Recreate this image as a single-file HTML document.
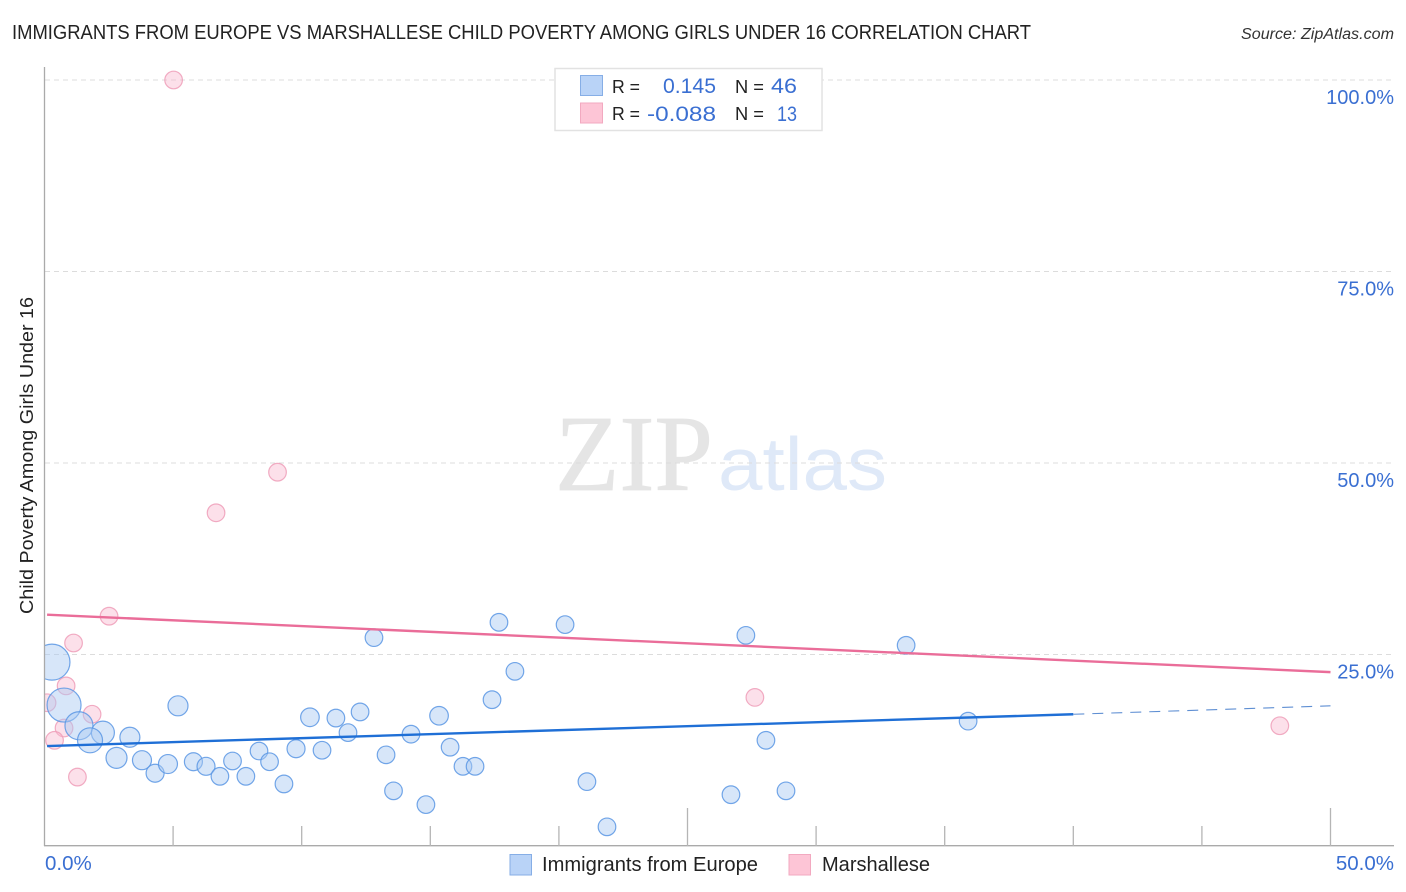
<!DOCTYPE html>
<html lang="en">
<head>
<meta charset="utf-8">
<title>Immigrants from Europe vs Marshallese Child Poverty Chart</title>
<style>
html,body{margin:0;padding:0;background:#fff;}
svg{display:block;font-family:"Liberation Sans",sans-serif;}
</style>
</head>
<body>
<svg id="chart" width="1406" height="892" viewBox="0 0 1406 892" xmlns="http://www.w3.org/2000/svg">
  <text x="12" y="39" font-size="20" fill="#222" textLength="1019" lengthAdjust="spacingAndGlyphs">IMMIGRANTS FROM EUROPE VS MARSHALLESE CHILD POVERTY AMONG GIRLS UNDER 16 CORRELATION CHART</text>
  <text x="1241" y="39" font-size="15.5" font-style="italic" fill="#333" textLength="153" lengthAdjust="spacingAndGlyphs">Source: ZipAtlas.com</text>

  <g>
    <text x="555" y="490" font-family="'Liberation Serif',serif" font-size="108" fill="#e5e5e5" stroke="#e5e5e5" stroke-width="0.8" textLength="158" lengthAdjust="spacingAndGlyphs">ZIP</text>
    <text x="718" y="490" font-size="75" fill="#dfe9f8" textLength="169" lengthAdjust="spacingAndGlyphs">atlas</text>
  </g>

  <g id="grid"></g>
  <g id="points"></g>
  <rect x="0" y="60" width="44.5" height="786" fill="#fff"/>
  <g id="axes"></g>
  <g id="trends"></g>

  <text transform="translate(33,614) rotate(-90)" font-size="18.5" fill="#222" textLength="317" lengthAdjust="spacingAndGlyphs">Child Poverty Among Girls Under 16</text>

  <g>
    <rect x="555" y="68.5" width="267" height="62" fill="#fff" stroke="#e2e2e2" stroke-width="1.5"/>
    <rect x="580.5" y="75.5" width="22" height="20" fill="#b9d3f7" stroke="#86aee6" stroke-width="1"/>
    <rect x="580.5" y="103" width="22" height="20" fill="#fdc5d6" stroke="#f2a9c0" stroke-width="1"/>
    <text x="612" y="93" font-size="18.5" fill="#222" textLength="28" lengthAdjust="spacingAndGlyphs">R =</text>
    <text x="612" y="120" font-size="18.5" fill="#222" textLength="28" lengthAdjust="spacingAndGlyphs">R =</text>
    <text x="663" y="93" font-size="21.5" fill="#3a6fd2" textLength="53" lengthAdjust="spacingAndGlyphs">0.145</text>
    <text x="647" y="121" font-size="21.5" fill="#3a6fd2" textLength="69" lengthAdjust="spacingAndGlyphs">-0.088</text>
    <text x="735" y="93" font-size="18.5" fill="#222" textLength="29" lengthAdjust="spacingAndGlyphs">N =</text>
    <text x="735" y="120" font-size="18.5" fill="#222" textLength="29" lengthAdjust="spacingAndGlyphs">N =</text>
    <text x="771" y="93" font-size="21.5" fill="#3a6fd2" textLength="26" lengthAdjust="spacingAndGlyphs">46</text>
    <text x="777" y="121" font-size="21.5" fill="#3a6fd2" textLength="20" lengthAdjust="spacingAndGlyphs">13</text>
  </g>

  <g>
    <rect x="510" y="854.5" width="21.5" height="20.5" fill="#b9d3f7" stroke="#86aee6" stroke-width="1"/>
    <text x="542" y="871" font-size="20" fill="#222" textLength="216" lengthAdjust="spacingAndGlyphs">Immigrants from Europe</text>
    <rect x="789" y="854.5" width="21.5" height="20.5" fill="#fdc5d6" stroke="#f2a9c0" stroke-width="1"/>
    <text x="822" y="871" font-size="20" fill="#222" textLength="108" lengthAdjust="spacingAndGlyphs">Marshallese</text>
  </g>
</svg>
<script>
const yTickValues = [25, 50, 75, 100];
const yTickLabels = ["25.0%", "50.0%", "75.0%", "100.0%"];
const xTickValues = [5, 10, 15, 20, 25, 30, 35, 40, 45, 50];
const xMajorTicks = [25, 50];
const xEndValues = [0, 50];
const xEndLabels = ["0.0%", "50.0%"];

const europeX = [0.29,0.76,1.34,2.27,1.77,3.32,2.80,3.79,4.30,4.80,5.19,5.79,6.28,6.82,7.31,7.83,8.34,8.75,9.31,9.78,10.32,10.79,11.33,11.80,12.27,12.81,13.28,13.57,14.25,14.83,15.34,15.77,16.27,16.74,17.40,17.67,18.29,20.24,21.09,21.87,26.69,27.27,28.05,28.83,33.50,35.91];
const europeY = [24.0,18.4,15.7,14.8,13.8,14.2,11.5,11.2,9.5,10.7,18.3,11.0,10.4,9.1,11.1,9.1,12.4,11.0,8.1,12.7,16.8,12.5,16.7,14.8,17.5,27.2,11.9,7.2,14.6,5.4,17.0,12.9,10.4,10.4,19.1,29.2,22.8,28.9,8.4,2.5,6.7,27.5,13.8,7.2,26.2,16.3];
const europeSize = [18,17,14,11.5,12.5,10,10.5,9.5,9,9.5,10,9,9,8.8,8.8,8.8,8.8,8.8,8.8,9,9.3,8.8,8.8,8.8,8.8,8.8,8.8,8.8,8.8,8.8,9.3,8.8,8.8,8.8,8.8,8.8,8.8,8.8,8.8,8.8,8.8,8.8,8.8,8.8,8.8,8.8];

const marshalleseX = [5.02,9.06,6.67,2.51,1.13,0.84,0.10,1.85,0.76,0.39,1.28,27.62,48.03];
const marshalleseY = [100,48.8,43.5,30.0,26.5,20.9,18.7,17.2,15.4,13.8,9.0,19.4,15.7];
const marshalleseSize = [8.8,8.8,8.8,8.8,8.8,8.8,8.8,8.8,8.8,8.8,8.8,8.8,8.8];

const europeTrendX = [0.1, 40];
const europeTrendY = [13.05, 17.2];
const europeDashX = [40, 50];
const europeDashY = [17.2, 18.3];
const marshalleseTrendX = [0.1, 50];
const marshalleseTrendY = [30.2, 22.7];

const NS = "http://www.w3.org/2000/svg";
function sx(v) { return 44.5 + v * 25.72; }
function sy(v) { return 846 - v * 7.66; }
function make(tag, parent, attrs) {
  const el = document.createElementNS(NS, tag);
  for (const k in attrs) el.setAttribute(k, attrs[k]);
  document.getElementById(parent).appendChild(el);
  return el;
}

yTickValues.forEach(function (v, i) {
  const line = make("line", "grid", {x1: 45, x2: 1394, y1: sy(v), y2: sy(v), stroke: "#dcdcdc", "stroke-width": 1, "stroke-dasharray": "5 4"});
  
  
  const label = make("text", "axes", {x: 1394, y: sy(v) + 24, "font-size": 20, fill: "#3a6fd2", "text-anchor": "end"});
  label.textContent = yTickLabels[i];
  
  
});

const yAxis = make("line", "axes", {x1: 44.5, x2: 44.5, y1: 67, y2: 846, stroke: "#aaa", "stroke-width": 1.3});


const xAxis = make("line", "axes", {x1: 44, x2: 1394, y1: 845.7, y2: 845.7, stroke: "#aaa", "stroke-width": 1.3});



xTickValues.forEach(function (v) {
  const top = xMajorTicks.indexOf(v) >= 0 ? 808 : 826;
  const tick = make("line", "axes", {x1: sx(v), x2: sx(v), y1: top, y2: 846, stroke: "#b5b5b5", "stroke-width": 1.3});
  
  
});

xEndValues.forEach(function (v, i) {
  const label = make("text", "axes", {x: i === 0 ? 45 : 1394, y: 870, "font-size": 20.5, fill: "#3a6fd2", "text-anchor": i === 0 ? "start" : "end"});
  label.textContent = xEndLabels[i];
  
  
});

marshalleseX.forEach(function (v, i) {
  const c = make("circle", "points", {cx: sx(v), cy: sy(marshalleseY[i]), r: marshalleseSize[i], fill: "#f9b6cc", "fill-opacity": 0.42, stroke: "#ee9db8", "stroke-opacity": 0.85, "stroke-width": 1.2});
  
  
});

europeX.forEach(function (v, i) {
  const c = make("circle", "points", {cx: sx(v), cy: sy(europeY[i]), r: europeSize[i], fill: "#a9c9f3", "fill-opacity": 0.47, stroke: "#5a97e4", "stroke-opacity": 0.85, "stroke-width": 1.2});
  
  
});

const trendPink = make("line", "trends", {x1: sx(marshalleseTrendX[0]), y1: sy(marshalleseTrendY[0]), x2: sx(marshalleseTrendX[1]), y2: sy(marshalleseTrendY[1]), stroke: "#ea6d99", "stroke-width": 2.4});


const trendBlue = make("line", "trends", {x1: sx(europeTrendX[0]), y1: sy(europeTrendY[0]), x2: sx(europeTrendX[1]), y2: sy(europeTrendY[1]), stroke: "#1f6fd6", "stroke-width": 2.4});


const trendDash = make("line", "trends", {x1: sx(europeDashX[0]), y1: sy(europeDashY[0]), x2: sx(europeDashX[1]), y2: sy(europeDashY[1]), stroke: "#5f8fd3", "stroke-width": 1.1, "stroke-dasharray": "11 8"});


</script>
</body>
</html>
